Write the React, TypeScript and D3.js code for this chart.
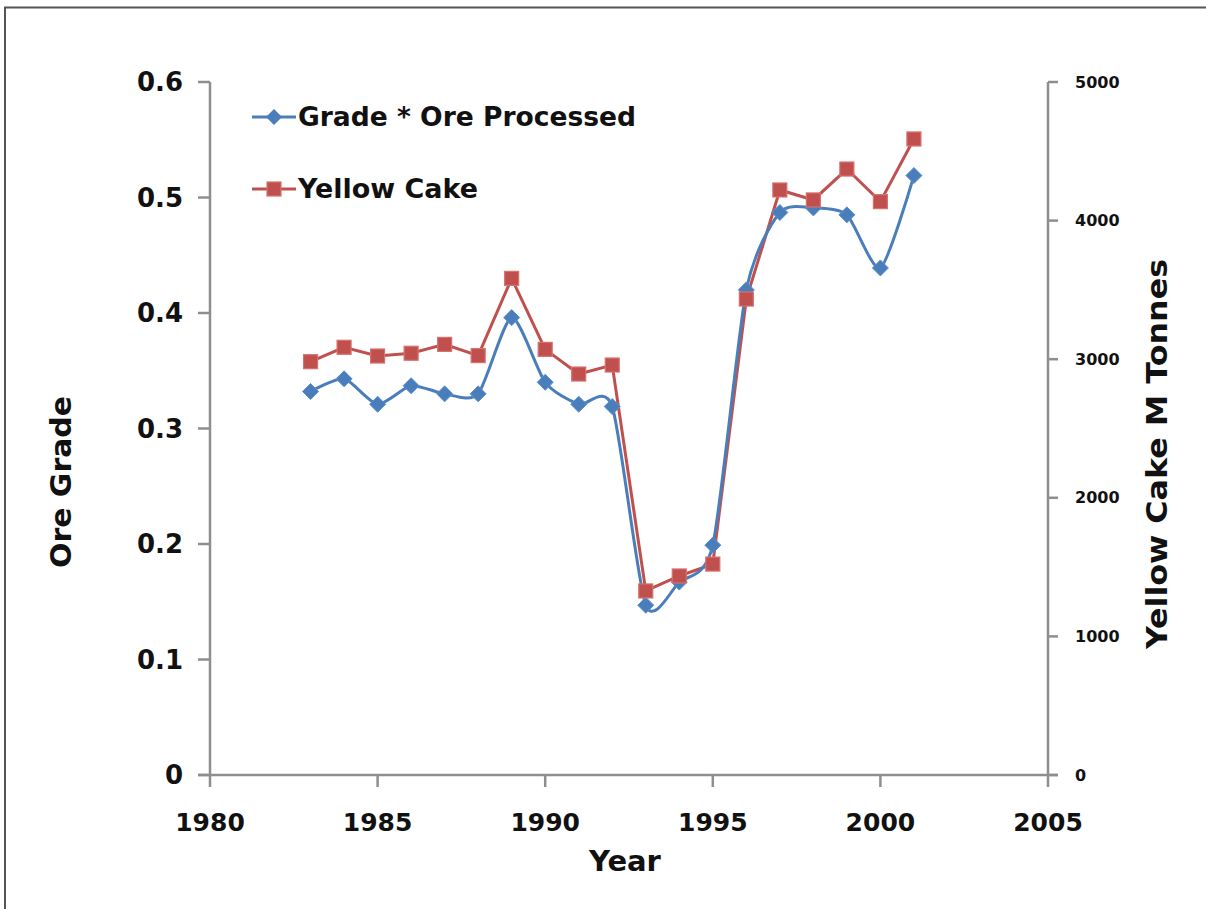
import React from "react";
import * as d3 from "d3";

const years = [1983, 1984, 1985, 1986, 1987, 1988, 1989, 1990, 1991, 1992, 1993, 1994, 1995, 1996, 1997, 1998, 1999, 2000, 2001];
const gradeOre = [0.332, 0.343, 0.321, 0.337, 0.330, 0.330, 0.396, 0.340, 0.321, 0.319, 0.147, 0.167, 0.199, 0.420, 0.487, 0.491, 0.485, 0.439, 0.519];
const yellowCake = [2982, 3086, 3023, 3043, 3107, 3026, 3583, 3071, 2893, 2958, 1328, 1436, 1522, 3434, 4221, 4149, 4372, 4137, 4589];
const xTicks = [1980, 1985, 1990, 1995, 2000, 2005];
const leftTicks = [0, 0.1, 0.2, 0.3, 0.4, 0.5, 0.6];
const rightTicks = [0, 1000, 2000, 3000, 4000, 5000];
const seriesNames = ["Grade * Ore Processed", "Yellow Cake"];

const W = 1206, H = 909;
const BLUE = "#4A7EBB";
const RED = "#C0504D";
const AX = "#8E8E8E";
const FONT = "'DejaVu Sans', Verdana, sans-serif";

export default function App() {
  const x = d3.scaleLinear().domain([1980, 2005]).range([210, 1048]);
  const yL = d3.scaleLinear().domain([0, 0.6]).range([775, 82]);
  const yR = d3.scaleLinear().domain([0, 5000]).range([775, 82]);

  const blueLine = d3
    .line<number>()
    .x((_, i) => x(years[i]))
    .y((d) => yL(d))
    .curve(d3.curveCardinal.tension(0.3));
  const redLine = d3
    .line<number>()
    .x((_, i) => x(years[i]))
    .y((d) => yR(d));

  const diamond = (cx: number, cy: number, r: number) =>
    `M${cx},${cy - r}L${cx + r},${cy}L${cx},${cy + r}L${cx - r},${cy}Z`;

  return (
    <svg
      width={W}
      height={H}
      style={{ position: "absolute", left: 0, top: 0, background: "#fff" }}
      fontFamily={FONT}
    >
      <rect x={0} y={0} width={W} height={H} fill="#fff" />
      {/* frame */}
      <line x1={4} y1={7.5} x2={W} y2={7.5} stroke="#555" strokeWidth={2} />
      <line x1={5} y1={7} x2={5} y2={H} stroke="#555" strokeWidth={2} />

      {/* axes */}
      <line x1={210} y1={yL(0.6)} x2={210} y2={yL(0) + 1} stroke={AX} strokeWidth={2.5} />
      <line x1={1048} y1={yR(5000)} x2={1048} y2={yR(0) + 1} stroke={AX} strokeWidth={2.5} />
      <line x1={198} y1={yL(0)} x2={1058} y2={yL(0)} stroke={AX} strokeWidth={2.5} />

      {leftTicks.map((t) => (
        <g key={"l" + t}>
          <line x1={198} y1={yL(t)} x2={210} y2={yL(t)} stroke={AX} strokeWidth={2.5} />
          <text x={183} y={yL(t)} textAnchor="end" dominantBaseline="central" fontSize={26} fontWeight="bold" fill="#111">
            {d3.format(".1~f")(t)}
          </text>
        </g>
      ))}
      {rightTicks.map((t) => (
        <g key={"r" + t}>
          <line x1={1048} y1={yR(t)} x2={1058} y2={yR(t)} stroke={AX} strokeWidth={2.5} />
          <text x={1075} y={yR(t)} textAnchor="start" dominantBaseline="central" fontSize={16} fontWeight="bold" fill="#111">
            {t}
          </text>
        </g>
      ))}
      {xTicks.map((t) => (
        <g key={"x" + t}>
          <line x1={x(t)} y1={yL(0)} x2={x(t)} y2={yL(0) + 12} stroke={AX} strokeWidth={2.5} />
          <text x={x(t)} y={822} textAnchor="middle" dominantBaseline="central" fontSize={25} fontWeight="bold" fill="#111">
            {t}
          </text>
        </g>
      ))}

      {/* axis titles */}
      <text x={625} y={861} textAnchor="middle" dominantBaseline="central" fontSize={29} fontWeight="bold" fill="#111">
        Year
      </text>
      <text
        transform={`translate(61,482) rotate(-90)`}
        textAnchor="middle"
        dominantBaseline="central"
        fontSize={29}
        fontWeight="bold"
        fill="#111"
        textLength={172}
        lengthAdjust="spacingAndGlyphs"
      >
        Ore Grade
      </text>
      <text
        transform={`translate(1157,454) rotate(-90)`}
        textAnchor="middle"
        dominantBaseline="central"
        fontSize={29}
        fontWeight="bold"
        fill="#111"
        textLength={390}
        lengthAdjust="spacingAndGlyphs"
      >
        Yellow Cake M Tonnes
      </text>

      {/* series */}
      <path d={redLine(yellowCake) || ""} fill="none" stroke={RED} strokeWidth={3} />
      <path d={blueLine(gradeOre) || ""} fill="none" stroke={BLUE} strokeWidth={3} />
      {gradeOre.map((v, i) => (
        <path key={"d" + i} d={diamond(x(years[i]), yL(v), 8)} fill={BLUE} stroke="#5B8ED0" strokeWidth={1} />
      ))}
      {yellowCake.map((v, i) => (
        <rect
          key={"s" + i}
          x={x(years[i]) - 7}
          y={yR(v) - 7}
          width={14}
          height={14}
          fill={RED}
          stroke="#D8706D"
          strokeWidth={1.2}
        />
      ))}

      {/* legend */}
      <g>
        <line x1={252} y1={117} x2={296} y2={117} stroke={BLUE} strokeWidth={3} />
        <path d={diamond(274, 117, 8)} fill={BLUE} />
        <text x={298} y={117} dominantBaseline="central" fontSize={26} fontWeight="bold" fill="#111" textLength={338} lengthAdjust="spacingAndGlyphs">
          {seriesNames[0]}
        </text>
        <line x1={252} y1={189} x2={296} y2={189} stroke={RED} strokeWidth={3} />
        <rect x={267} y={182} width={14} height={14} fill={RED} stroke="#D8706D" strokeWidth={1.2} />
        <text x={298} y={189} dominantBaseline="central" fontSize={26} fontWeight="bold" fill="#111" textLength={180} lengthAdjust="spacingAndGlyphs">
          {seriesNames[1]}
        </text>
      </g>
    </svg>
  );
}
